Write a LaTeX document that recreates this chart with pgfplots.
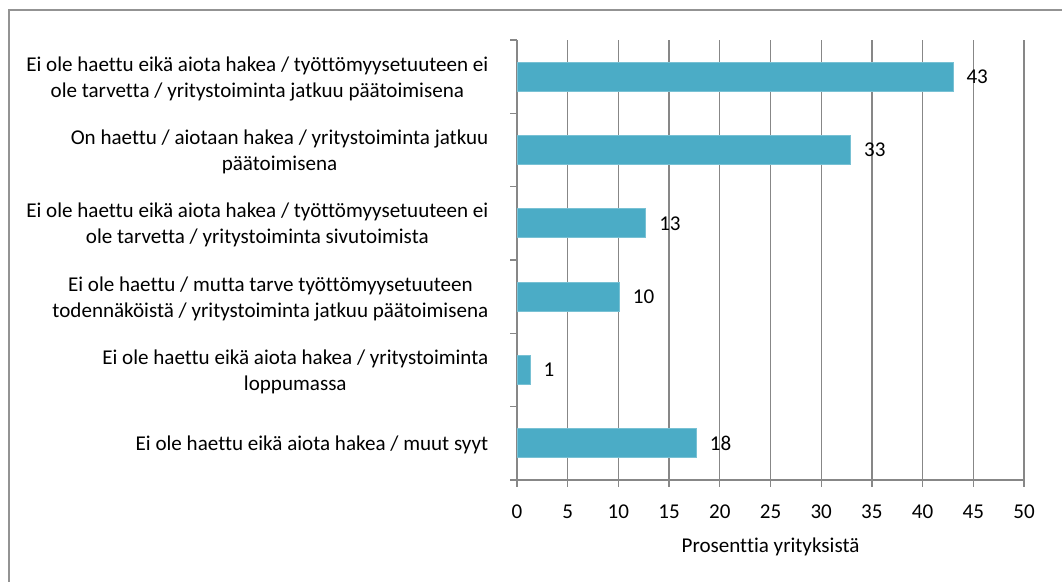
\documentclass[border=0pt]{standalone}
\usepackage{fontspec}
\setmainfont{Carlito}[Ligatures=NoCommon]
\usepackage{pgfplots}
\pgfplotsset{compat=1.18}
\definecolor{barc}{HTML}{4BACC6}
\definecolor{gridc}{HTML}{878787}
\begin{document}
\begin{tikzpicture}[font=\fontsize{15.8pt}{19.5pt}\selectfont]
\useasboundingbox (0,0) rectangle (796.5pt,-435.75pt);
% outer chart frame (only top and left visible)
\draw[gridc!90, line width=1.3pt] (6.75pt,-7.5pt) rectangle (850pt,-480pt);
\begin{axis}[
  at={(387.75pt,-360pt)}, anchor=south west,
  scale only axis, width=380.25pt, height=330pt,
  xbar, bar width=21.75pt,
  xmin=0, xmax=50, ymin=-0.5, ymax=5.5, y dir=reverse,
  xtick={0,5,...,50},
  ytick={0,...,5},
  yticklabels={
    {Ei ole haettu eikä aiota hakea / työttömyysetuuteen ei\\ole tarvetta / yritystoiminta jatkuu päätoimisena},
    {On haettu / aiotaan hakea / yritystoiminta jatkuu\\päätoimisena},
    {Ei ole haettu eikä aiota hakea / työttömyysetuuteen ei\\ole tarvetta / yritystoiminta sivutoimista},
    {Ei ole haettu / mutta tarve työttömyysetuuteen\\todennäköistä / yritystoiminta jatkuu päätoimisena},
    {Ei ole haettu eikä aiota hakea / yritystoiminta\\loppumassa},
    {Ei ole haettu eikä aiota hakea / muut syyt}},
  yticklabel style={align=center, xshift=-13pt, yshift=-1.5pt},
  xticklabel style={yshift=-10pt},
  xlabel style={yshift=-8pt},
  minor ytick={-0.5,0.5,...,5.5},
  major y tick style={draw=none},
  axis lines*=left,
  axis line style={gridc, line width=1pt},
  tick align=outside,
  tick style={gridc, line width=1pt},
  major tick length=5pt, minor tick length=5pt,
  xmajorgrids, grid style={gridc, line width=1pt},
  xlabel={Prosenttia yrityksistä},
  /pgf/number format/assume math mode=true,
  nodes near coords,
  nodes near coords style={/pgf/number format/fixed, /pgf/number format/precision=0, text=black, xshift=6.5pt},
]
\addplot[fill=barc, draw=barc!75!white, line width=0.6pt] coordinates {
  (43.0,0) (32.9,1) (12.7,2) (10.1,3) (1.3,4) (17.7,5)};
\end{axis}
\end{tikzpicture}
\end{document}
